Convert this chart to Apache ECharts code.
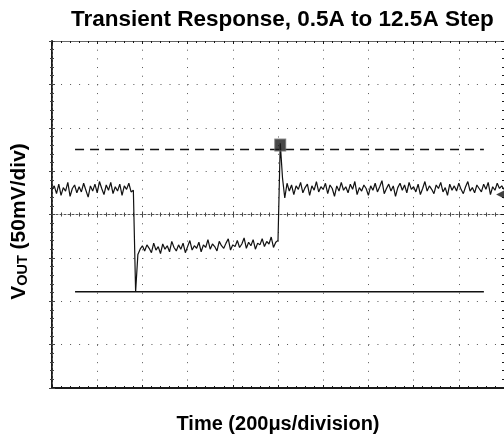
<!DOCTYPE html>
<html>
<head>
<meta charset="utf-8">
<script src="https://cdn.jsdelivr.net/npm/echarts@6/dist/echarts.min.js"></script>
<style>
html,body{margin:0;padding:0;background:#fff;}
#chart{width:504px;height:440px;}
</style>
</head>
<body>
<div id="chart"></div>
<script>
// ---- data (time in microseconds, Vout deviation in mV) ----
const titleText = 'Transient Response, 0.5A to 12.5A Step';
const xAxisName = 'Time (200\u03bcs/division)';
const sampleStepUs = 10;
const voutMv = [
  29, 33, 24, 35, 22, 31, 27, 37, 21, 30,
  34, 25, 32, 26, 36, 28, 20, 33, 27, 35,
  25, 38, 30, 23, 34, 28, 37, 24, 32, 27,
  35, 22, 33, 29, 36, 26, 28, -89, -46, -40,
  -36, -42, -35, -39, -44, -33, -41, -37, -45, -34,
  -40, -36, -43, -31, -38, -42, -35, -40, -33, -44,
  -37, -30, -41, -36, -39, -32, -43, -35, -38, -29,
  -40, -34, -37, -42, -31, -36, -39, -33, -28, -41,
  -35, -37, -30, -38, -34, -27, -39, -32, -36, -29,
  -40, -33, -35, -28, -37, -31, -34, -26, -38, -32,
  -30, 82, 42, 19, 36, 27, 34, 23, 33, 29,
  37, 25, 31, 35, 22, 33, 28, 38, 26, 32,
  29, 36, 24, 34, 30, 21, 33, 27, 37, 28,
  32, 25, 35, 29, 38, 23, 31, 27, 34, 30,
  22, 33, 28, 36, 26, 32, 39, 24, 30, 35,
  27, 33, 21, 31, 36, 28, 34, 25, 37, 29,
  32, 26, 35, 23, 30, 38, 27, 33, 29, 24,
  34, 30, 37, 26, 31, 22, 35, 28, 33, 27,
  36, 29, 24, 32, 38, 27, 31, 25, 34, 30,
  26, 35, 29, 37, 23, 32, 28, 36, 30, 33,
  29
];
const limitTimesUs = [102, 1911];
const upperLimitMv = 75;
const lowerLimitMv = -89;
const triggerMarker = [1010, 80];
const groundMarker = [1985, 23];
const xRange = [0, 2000], xDivUs = 200;
const yRange = [-200, 200], yDivMv = 50;

// ---- chart ----
const traceData = voutMv.map((v, i) => [i * sampleStepUs, v]);
const font = '"Liberation Sans", Arial, sans-serif';
const ink = '#1a1a1a';
const dotCol = '#555';

function baseX(extra) {
  return Object.assign({
    type: 'value', min: xRange[0], max: xRange[1], interval: xDivUs,
    axisLabel: {show: false},
    splitLine: {show: false},
    axisTick: {show: true, inside: true, length: 3, lineStyle: {color: ink, width: 1}},
    minorTick: {show: true, splitNumber: 5, length: 2, lineStyle: {color: ink, width: 1}},
    axisLine: {show: true, onZero: false, lineStyle: {color: ink, width: 1.5}}
  }, extra);
}
function baseY(extra) {
  return Object.assign({
    type: 'value', min: yRange[0], max: yRange[1], interval: yDivMv,
    axisLabel: {show: false},
    splitLine: {show: false},
    axisTick: {show: true, inside: true, length: 3, lineStyle: {color: ink, width: 1}},
    minorTick: {show: true, splitNumber: 5, length: 2, lineStyle: {color: ink, width: 1}},
    axisLine: {show: true, onZero: false, lineStyle: {color: ink, width: 1.5}}
  }, extra);
}

const chart = echarts.init(document.getElementById('chart'), null, {renderer: 'canvas'});
chart.setOption({
  animation: false,
  backgroundColor: '#fff',
  title: {
    text: titleText, left: 66, top: 3,
    textStyle: {fontFamily: font, fontSize: 22.5, fontWeight: 'bold', color: '#000'}
  },
  grid: {left: 52, top: 41, right: 0, bottom: 52, containLabel: false},
  xAxis: [
    baseX({
      position: 'bottom',
      name: xAxisName, nameLocation: 'middle', nameGap: 26,
      nameTextStyle: {fontFamily: font, fontSize: 20, fontWeight: 'bold', color: '#000'},
      axisLine: {show: true, onZero: false, lineStyle: {color: ink, width: 2}},
      splitLine: {show: true, lineStyle: {color: dotCol, width: 1, type: [1, 7.68]}}
    }),
    baseX({position: 'top', axisLine: {show: true, onZero: false, lineStyle: {color: '#666', width: 1}}}),
    baseX({
      position: 'bottom',
      axisLine: {show: true, onZero: true, onZeroAxisIndex: 0, lineStyle: {color: dotCol, width: 1, type: [2, 2]}},
      axisTick: {show: true, inside: true, length: 3, lineStyle: {color: '#444'}},
      minorTick: {show: true, splitNumber: 5, length: 2, lineStyle: {color: '#444'}}
    }),
    baseX({
      position: 'bottom',
      axisLine: {show: false, onZero: true, onZeroAxisIndex: 0},
      axisTick: {show: true, inside: false, length: 3, lineStyle: {color: '#444'}},
      minorTick: {show: true, splitNumber: 5, length: 2, lineStyle: {color: '#444'}}
    })
  ],
  yAxis: [
    baseY({
      position: 'left',
      name: '{v|V}{s|OUT}{v| (50mV/div)}', nameLocation: 'middle', nameGap: 22,
      nameTextStyle: {
        fontFamily: font, fontWeight: 'bold', color: '#000', padding: [0, 14, 0, 0],
        rich: {
          v: {fontFamily: font, fontSize: 21, fontWeight: 'bold', color: '#000', lineHeight: 24, verticalAlign: 'bottom'},
          s: {fontFamily: font, fontSize: 14.5, fontWeight: 'bold', color: '#000', lineHeight: 19, verticalAlign: 'bottom'}
        }
      },
      axisLine: {show: true, onZero: false, lineStyle: {color: ink, width: 2}},
      splitLine: {show: true, lineStyle: {color: dotCol, width: 1, type: [1, 8.04]}}
    }),
    baseY({position: 'right', axisLine: {show: false, onZero: false}}),
    baseY({
      position: 'left',
      axisLine: {show: true, onZero: true, onZeroAxisIndex: 0, lineStyle: {color: dotCol, width: 1, type: [2, 2]}},
      axisTick: {show: true, inside: true, length: 3, lineStyle: {color: '#444'}},
      minorTick: {show: true, splitNumber: 5, length: 2, lineStyle: {color: '#444'}}
    }),
    baseY({
      position: 'left',
      axisLine: {show: false, onZero: true, onZeroAxisIndex: 0},
      axisTick: {show: true, inside: false, length: 3, lineStyle: {color: '#444'}},
      minorTick: {show: true, splitNumber: 5, length: 2, lineStyle: {color: '#444'}}
    })
  ],
  series: [
    {
      type: 'line', xAxisIndex: 0, yAxisIndex: 0, showSymbol: false, symbol: 'none',
      data: limitTimesUs.map(t => [t, upperLimitMv]),
      lineStyle: {color: '#111', width: 1.4, type: [9, 6]}, z: 3
    },
    {
      type: 'line', xAxisIndex: 0, yAxisIndex: 0, showSymbol: false, symbol: 'none',
      data: limitTimesUs.map(t => [t, lowerLimitMv]),
      lineStyle: {color: '#111', width: 1.6}, z: 3
    },
    {
      type: 'line', xAxisIndex: 0, yAxisIndex: 0, showSymbol: false, symbol: 'none',
      data: traceData,
      lineStyle: {color: '#111', width: 1.2}, z: 4
    },
    {
      type: 'scatter', xAxisIndex: 0, yAxisIndex: 0,
      data: [triggerMarker], symbol: 'rect', symbolSize: [11, 12],
      itemStyle: {color: '#1a1a1a', borderColor: '#777', borderWidth: 1}, z: 5
    },
    {
      type: 'scatter', xAxisIndex: 0, yAxisIndex: 0,
      data: [groundMarker], symbol: 'triangle', symbolRotate: 90, symbolSize: [9, 9],
      itemStyle: {color: '#111'}, z: 5
    }
  ]
});
</script>
</body>
</html>
